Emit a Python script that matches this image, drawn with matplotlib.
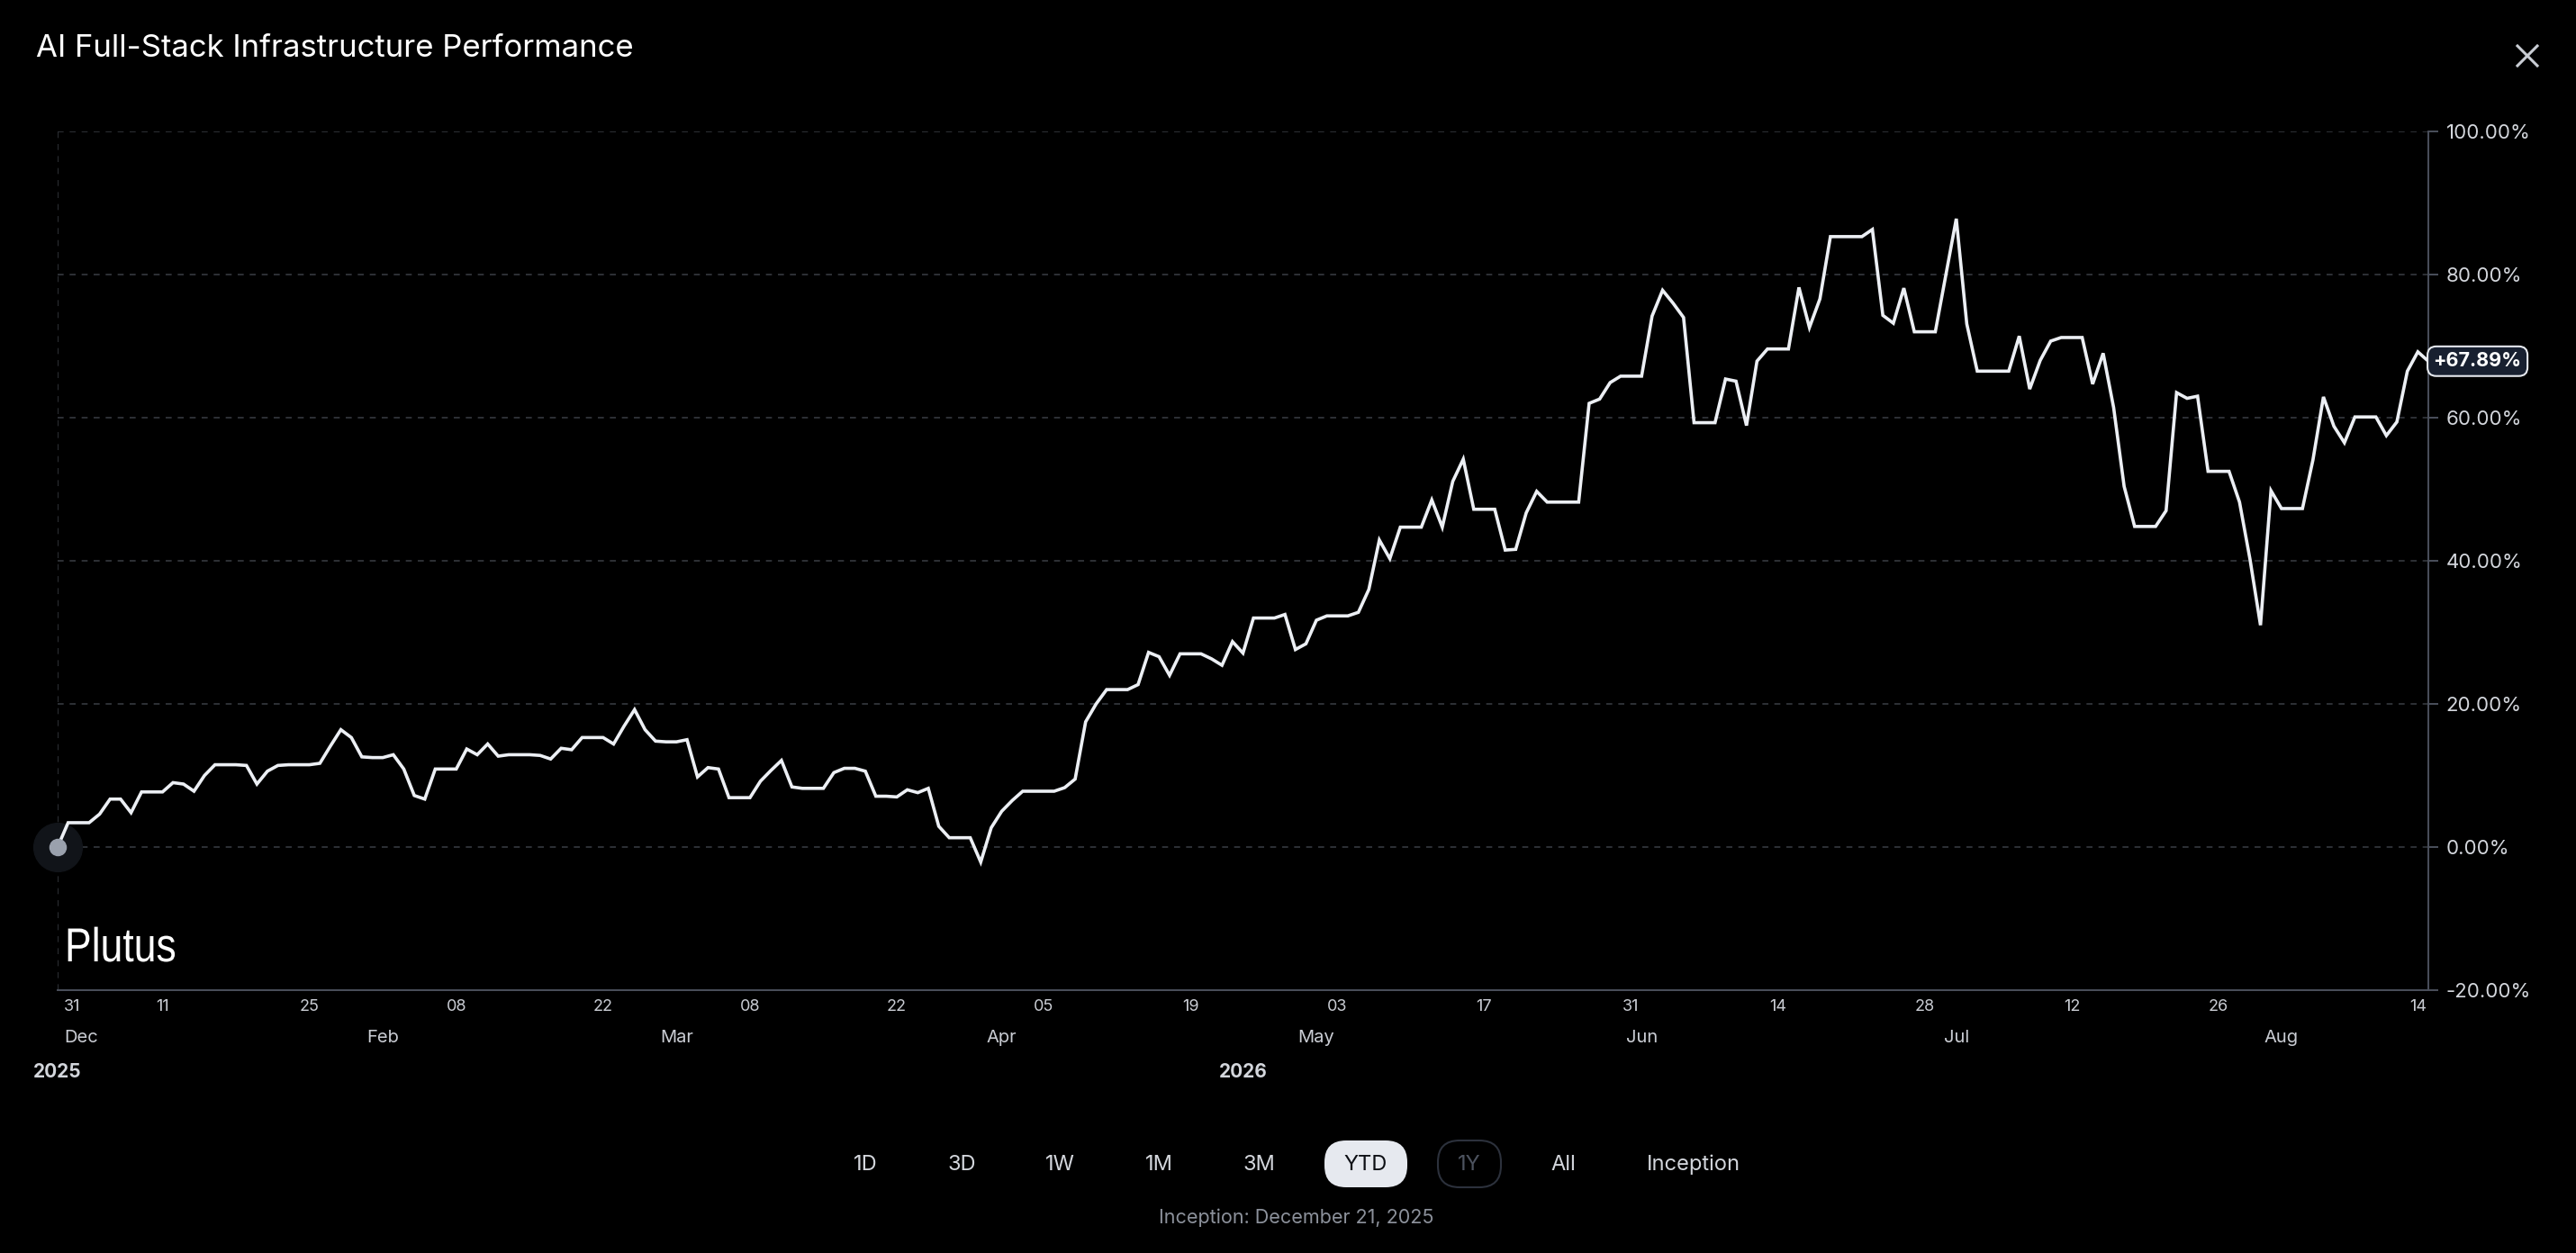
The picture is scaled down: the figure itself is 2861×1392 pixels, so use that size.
import numpy as np
import pandas as pd
import matplotlib
matplotlib.use("Agg")
import matplotlib.pyplot as plt
from matplotlib.patches import FancyBboxPatch, PathPatch
from matplotlib.textpath import TextPath
from matplotlib.font_manager import FontProperties
from matplotlib.transforms import Affine2D

W, H = 2861, 1392

# daily performance values (%), starting 2026-01-01
values = [
    0.0, 3.4, 3.4, 3.4, 4.6, 6.7, 6.7, 4.8, 7.7, 7.7,
    7.7, 9.0, 8.8, 7.8, 10.0, 11.5, 11.5, 11.5, 11.4, 8.8,
    10.6, 11.4, 11.5, 11.5, 11.5, 11.7, 14.1, 16.4, 15.3, 12.6,
    12.5, 12.5, 12.9, 10.9, 7.2, 6.7, 10.9, 10.9, 10.9, 13.7,
    12.9, 14.4, 12.7, 12.9, 12.9, 12.9, 12.8, 12.3, 13.8, 13.6,
    15.3, 15.3, 15.3, 14.4, 16.9, 19.2, 16.4, 14.8, 14.7, 14.7,
    15.0, 9.8, 11.1, 10.9, 6.9, 6.9, 6.9, 9.2, 10.7, 12.1,
    8.4, 8.2, 8.2, 8.2, 10.4, 11.0, 11.0, 10.6, 7.1, 7.1,
    7.0, 8.0, 7.6, 8.2, 2.9, 1.3, 1.3, 1.3, -2.1, 2.7,
    5.0, 6.5, 7.8, 7.8, 7.8, 7.8, 8.3, 9.5, 17.5, 20.0,
    22.0, 22.0, 22.0, 22.7, 27.2, 26.6, 24.0, 27.0, 27.0, 27.0,
    26.3, 25.4, 28.7, 27.1, 32.0, 32.0, 32.0, 32.5, 27.6, 28.4,
    31.7, 32.3, 32.3, 32.3, 32.8, 36.0, 42.9, 40.3, 44.7, 44.7,
    44.7, 48.5, 44.7, 51.1, 54.2, 47.2, 47.2, 47.2, 41.5, 41.6,
    46.7, 49.7, 48.2, 48.2, 48.2, 48.2, 62.0, 62.6, 64.9, 65.8,
    65.8, 65.8, 74.2, 77.8, 76.0, 74.0, 59.3, 59.3, 59.3, 65.4,
    65.1, 58.9, 67.9, 69.6, 69.6, 69.6, 78.2, 72.6, 76.6, 85.3,
    85.3, 85.3, 85.3, 86.3, 74.3, 73.2, 78.1, 72.0, 72.0, 72.0,
    79.9, 87.8, 73.1, 66.5, 66.5, 66.5, 66.5, 71.4, 64.0, 68.0,
    70.7, 71.2, 71.2, 71.2, 64.7, 69.0, 61.4, 50.4, 44.8, 44.8,
    44.8, 47.0, 63.5, 62.7, 63.0, 52.5, 52.5, 52.5, 48.2, 40.2,
    31.0, 49.8, 47.3, 47.3, 47.3, 54.1, 62.9, 58.8, 56.5, 60.1,
    60.1, 60.1, 57.5, 59.4, 66.5, 69.2, 67.89,
]
dates = pd.date_range("2026-01-01", periods=len(values), freq="D")

tick_dates = ["2025-12-31", "2026-01-11", "2026-01-25", "2026-02-08", "2026-02-22",
              "2026-03-08", "2026-03-22", "2026-04-05", "2026-04-19", "2026-05-03",
              "2026-05-17", "2026-05-31", "2026-06-14", "2026-06-28", "2026-07-12",
              "2026-07-26", "2026-08-14"]
month_dates = ["2026-02-01", "2026-03-01", "2026-04-01", "2026-05-01",
               "2026-06-01", "2026-07-01", "2026-08-01"]
y_ticks = [-20, 0, 20, 40, 60, 80, 100]
buttons = ["1D", "3D", "1W", "1M", "3M", "YTD", "1Y", "All", "Inception"]
button_x = [961, 1068, 1177, 1287, 1398, 1517, 1632, 1736, 1881]

title = "AI Full-Stack Infrastructure Performance"
inception = "Inception: December 21, 2025"

font = "Inter"
grid_col = "#36393f"
axis_col = "#4b505c"

x = np.arange(len(values))

fig = plt.figure(figsize=(W / 100, H / 100), dpi=100)
fig.patch.set_facecolor("black")

ax = fig.add_axes([64 / W, 292 / H, (2697 - 64) / W, (1100 - 146) / H])
ax.set_facecolor("black")
ax.set_xlim(0, len(values) - 1)
ax.set_ylim(-20, 100)

for y in y_ticks[1:]:
    ax.axhline(y, color=grid_col, lw=1.2, ls=(0, (4, 4)), zorder=1)
ax.axvline(0, color=grid_col, lw=1.2, ls=(0, (4, 4)), zorder=1)

for s in ["top", "left"]:
    ax.spines[s].set_visible(False)
for s in ["right", "bottom"]:
    ax.spines[s].set_color(axis_col)
    ax.spines[s].set_linewidth(1.4)

ax.plot(x, values, color="#eceff4", lw=2.6, solid_joinstyle="miter", zorder=3)

# start marker with halo
ax.scatter([x[0]], [values[0]], s=1500, color="#111419", zorder=2, clip_on=False)
ax.scatter([x[0]], [values[0]], s=170, color="#9aa1ad", zorder=4, clip_on=False)

ax.yaxis.tick_right()
ax.set_yticks(y_ticks)
ax.set_yticklabels([f"{v:.2f}%" for v in y_ticks])
ax.tick_params(axis="y", length=8, width=1.4, color=axis_col, labelcolor="#d3d6dc",
               labelsize=16, pad=6)
for lab in ax.get_yticklabels():
    lab.set_family(font)

tick_pos = [max((pd.Timestamp(d) - dates[0]).days, 1.4) for d in tick_dates]
tick_lab = [pd.Timestamp(d).strftime("%d") for d in tick_dates]
ax.set_xticks(tick_pos)
ax.set_xticklabels(tick_lab)
ax.tick_params(axis="x", length=0, labelcolor="#c9ccd3", labelsize=13, pad=7)
for lab in ax.get_xticklabels():
    lab.set_family(font)

tr = ax.get_xaxis_transform()
ax.text(0.6, -0.0555, "Dec", transform=tr, ha="left", va="center", fontsize=14.5,
        color="#c9ccd3", family=font)
for d in month_dates:
    t = pd.Timestamp(d)
    ax.text((t - dates[0]).days, -0.0555, t.strftime("%b"), transform=tr, ha="center",
            va="center", fontsize=14.5, color="#c9ccd3", family=font)
ax.text(0, -0.095, "2025", transform=tr, ha="center", va="center", fontsize=15,
        weight="bold", color="#d3d6dc", family=font)
ax.text(113, -0.095, "2026", transform=tr, ha="center", va="center", fontsize=15,
        weight="bold", color="#d3d6dc", family=font)

# last value badge
ax.annotate(f"+{values[-1]:.2f}%", xy=(1, values[-1]), xycoords=("axes fraction", "data"),
            xytext=(4, 0), textcoords="offset points", ha="left", va="center",
            fontsize=15.5, weight="bold", color="white", family=font, annotation_clip=False,
            bbox=dict(boxstyle="round,pad=0.3,rounding_size=0.45", fc="#182030",
                      ec="#e6e9ef", lw=1.5), zorder=6)

# overlay in pixel coordinates for page chrome
ov = fig.add_axes([0, 0, 1, 1])
ov.set_xlim(0, W)
ov.set_ylim(H, 0)
ov.axis("off")
ov.patch.set_alpha(0)

ov.text(40, 54, title, ha="left", va="center", fontsize=25, color="white", family=font)
ov.plot([2796, 2818], [51, 73], color="#c9cdd4", lw=2.2)
ov.plot([2796, 2818], [73, 51], color="#c9cdd4", lw=2.2)

# condensed watermark
wm = TextPath((0, 0), "Plutus", size=53, prop=FontProperties(family="Liberation Sans"))
wm = Affine2D().scale(0.84, -1).translate(72, 1068).transform_path(wm)
ov.add_patch(PathPatch(wm, fc="white", ec="none"))

for b, bx in zip(buttons, button_x):
    col = "#d3d6dc"
    if b == "YTD":
        ov.add_patch(FancyBboxPatch((bx - 46, 1267), 92, 52,
                                    boxstyle="round,pad=0,rounding_size=24",
                                    fc="#e6e9ef", ec="none"))
        col = "#0d0f14"
    elif b == "1Y":
        ov.add_patch(FancyBboxPatch((bx - 35, 1267), 70, 52,
                                    boxstyle="round,pad=0,rounding_size=24",
                                    fc="none", ec="#2c313c", lw=1.5))
        col = "#4d535f"
    ov.text(bx, 1294, b, ha="center", va="center", fontsize=17, color=col, family=font)

ov.text(1440, 1353, inception, ha="center", va="center", fontsize=15.5, color="#8c919b",
        family=font)

fig.savefig("out.png", dpi=100, facecolor="black")
